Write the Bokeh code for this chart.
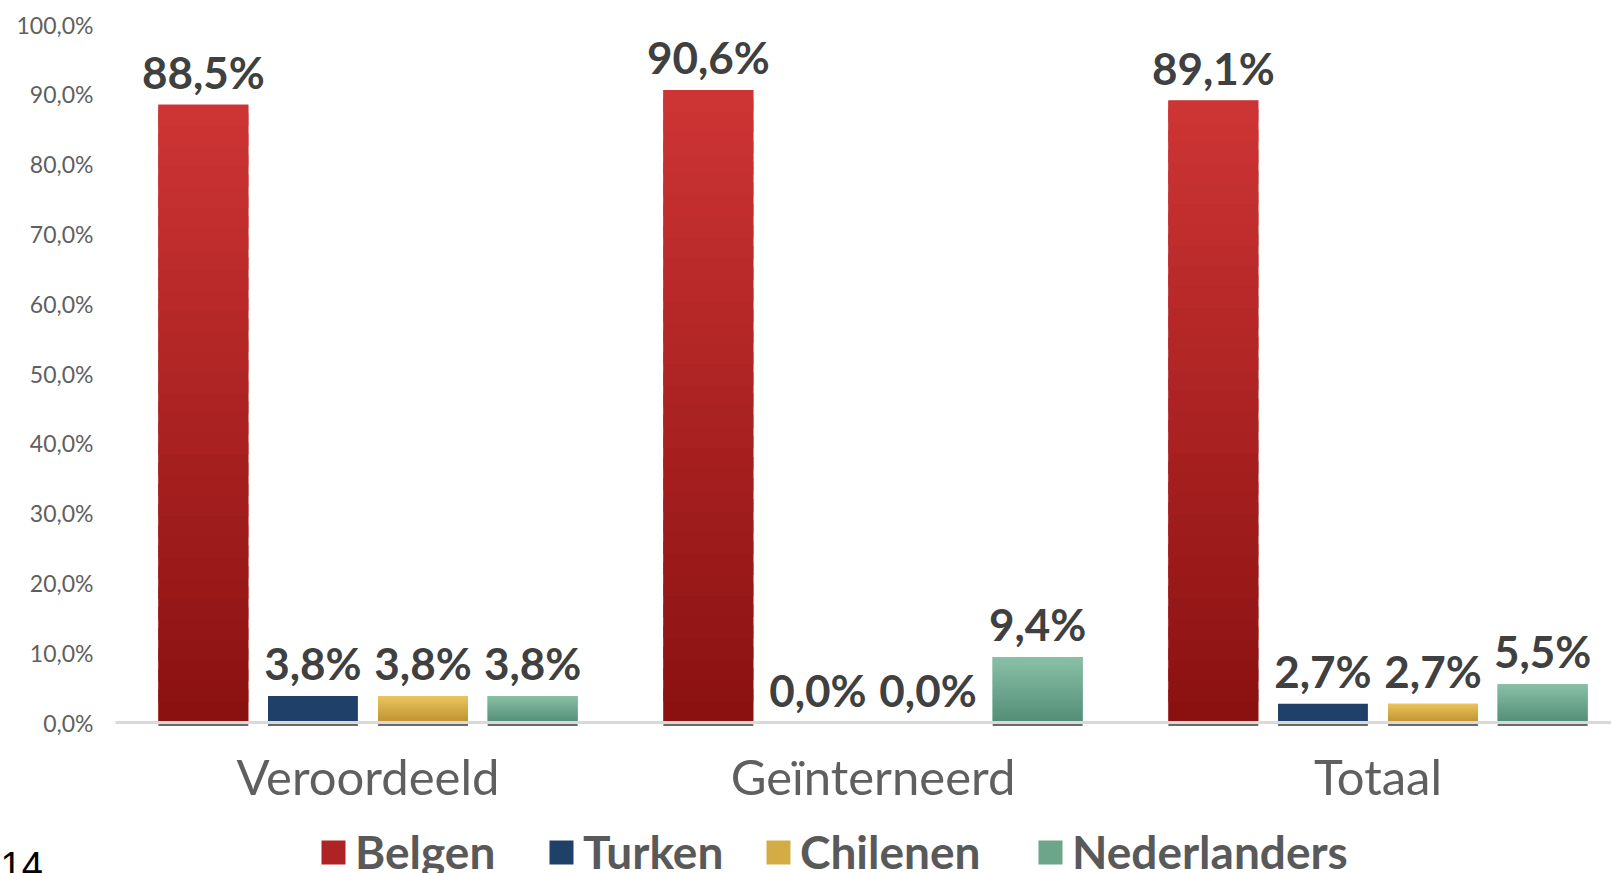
from bokeh.plotting import figure
from bokeh.models import (ColumnDataSource, Range1d, FixedTicker, LabelSet,
                          Legend, LegendItem, Label)
from bokeh.transform import dodge
from bokeh.embed import file_html
from bokeh.resources import INLINE
from bokeh.core.properties import value

# ---- data ----
categories = ["Veroordeeld", "Geïnterneerd", "Totaal"]
series = ["Belgen", "Turken", "Chilenen", "Nederlanders"]
belgen = [88.5, 90.6, 89.1]
turken = [3.8, 0.0, 2.7]
chilenen = [3.8, 0.0, 2.7]
nederlanders = [3.8, 9.4, 5.5]
y_ticks = [0, 10, 20, 30, 40, 50, 60, 70, 80, 90, 100]
y_tick_labels = ["0,0%", "10,0%", "20,0%", "30,0%", "40,0%", "50,0%",
                 "60,0%", "70,0%", "80,0%", "90,0%", "100,0%"]
page_number = "14"

# ---- styling ----
base_colors = ["#AE2323", "#1F4068", "#D4AC45", "#6CA58A"]
grad_top = ["#CD3434", "#1F4068", "#EAC55F", "#89BFA7"]
grad_bot = ["#8B1111", "#1F4068", "#BD922E", "#538E77"]
offsets = [-0.326, -0.109, 0.109, 0.326]
bar_w = 0.178
cat_pos = [0.5, 1.5, 2.5]
FONT = "Lato"
N_SLICES = 30

W, H = 1611, 873
X0, X1 = -0.2277, 2.9624
Y0, Y1 = -21.63, 103.44


def fmt(v):
    return f"{v:.1f}%".replace(".", ",")


def mix(c1, c2, t):
    a = [int(c1[i:i + 2], 16) for i in (1, 3, 5)]
    b = [int(c2[i:i + 2], 16) for i in (1, 3, 5)]
    return "#" + "".join(f"{round(x + (y - x) * t):02x}" for x, y in zip(a, b))


source = ColumnDataSource(dict(x=cat_pos, Belgen=belgen, Turken=turken,
                               Chilenen=chilenen, Nederlanders=nederlanders))

p = figure(width=W, height=H, output_backend="svg", toolbar_location=None,
           x_range=Range1d(X0, X1), y_range=Range1d(Y0, Y1),
           min_border_left=0, min_border_right=0, min_border_top=0,
           min_border_bottom=0)
p.outline_line_color = None
p.xgrid.visible = False
p.ygrid.visible = False

# base bars (data)
renderers = []
for s, off, c in zip(series, offsets, base_colors):
    r = p.vbar(x=dodge("x", off), top=s, width=bar_w, source=source,
               fill_color=c, line_color=None)
    renderers.append(r)

# gradient shading + base shadow, derived from the same values
for s, off, ct, cb in zip(series, offsets, grad_top, grad_bot):
    q = dict(left=[], right=[], bottom=[], top=[], color=[])
    sh = dict(x=[], top=[], bottom=[])
    for xp, v in zip(cat_pos, source.data[s]):
        if v <= 0:
            continue
        sh["x"].append(xp + off)
        sh["top"].append(-0.21)
        sh["bottom"].append(-0.5)
        if ct == cb:
            continue
        step = v / N_SLICES
        for k in range(N_SLICES):
            q["left"].append(xp + off - bar_w / 2)
            q["right"].append(xp + off + bar_w / 2)
            q["bottom"].append(step * k)
            q["top"].append(min(v, step * (k + 1.6)))
            q["color"].append(mix(cb, ct, k / (N_SLICES - 1)))
    if q["left"]:
        p.quad(left="left", right="right", bottom="bottom", top="top",
               fill_color="color", line_color=None, source=ColumnDataSource(q))
    if sh["x"]:
        p.vbar(x="x", top="top", bottom="bottom", width=bar_w,
               fill_color="#6A6A6A", line_color=None, source=ColumnDataSource(sh))

# data labels
lx, ly, lt = [], [], []
for s, off in zip(series, offsets):
    for xp, v in zip(cat_pos, source.data[s]):
        lx.append(xp + off)
        ly.append(v)
        lt.append(fmt(v))
lab_src = ColumnDataSource(dict(x=lx, y=ly, t=lt))
p.add_layout(LabelSet(x="x", y="y", text="t", source=lab_src, y_offset=16,
                      text_align="center", text_baseline="alphabetic",
                      text_font=value(FONT), text_font_style="bold",
                      text_font_size="44px", text_color="#404040"))

# y axis (fixed at x = 0)
ya = p.yaxis[0]
ya.fixed_location = 0
ya.bounds = (0, 100)
ya.ticker = FixedTicker(ticks=y_ticks)
ya.major_label_overrides = {t: l for t, l in zip(y_ticks, y_tick_labels)}
ya.axis_line_color = None
ya.major_tick_line_color = None
ya.minor_tick_line_color = None
ya.major_label_standoff = 16
ya.major_label_text_font = FONT
ya.major_label_text_font_size = "23px"
ya.major_label_text_color = "#5F5F5F"

# x axis (fixed at y = 0)
xa = p.xaxis[0]
xa.fixed_location = 0
xa.bounds = (0, X1)
xa.ticker = FixedTicker(ticks=cat_pos)
xa.major_label_overrides = {t: l for t, l in zip(cat_pos, categories)}
xa.axis_line_color = "#D9D9D9"
xa.axis_line_width = 3
xa.major_tick_line_color = None
xa.minor_tick_line_color = None
xa.major_label_standoff = 18
xa.major_label_text_font = FONT
xa.major_label_text_font_size = "49px"
xa.major_label_text_color = "#5F5F5F"

# legend: one entry per series, each placed under the chart
legend_x = [318, 546, 763, 1035]
for s, r, lxp in zip(series, renderers, legend_x):
    lg = Legend(items=[LegendItem(label=s, renderers=[r])],
                orientation="horizontal", location=(lxp, -6),
                glyph_width=30, glyph_height=30, label_standoff=7, spacing=0,
                padding=0, margin=0, border_line_color=None,
                background_fill_alpha=0,
                label_text_font=FONT, label_text_font_style="bold",
                label_text_baseline="alphabetic",
                label_text_font_size="46px", label_text_color="#595959")
    p.add_layout(lg)

p.add_layout(Label(x=0, y=8, x_units="screen", y_units="screen", text=page_number,
                   text_font="Liberation Sans", text_font_size="38px",
                   text_color="#000000", text_baseline="alphabetic"))

open("out.html", "w").write(file_html(p, INLINE))
